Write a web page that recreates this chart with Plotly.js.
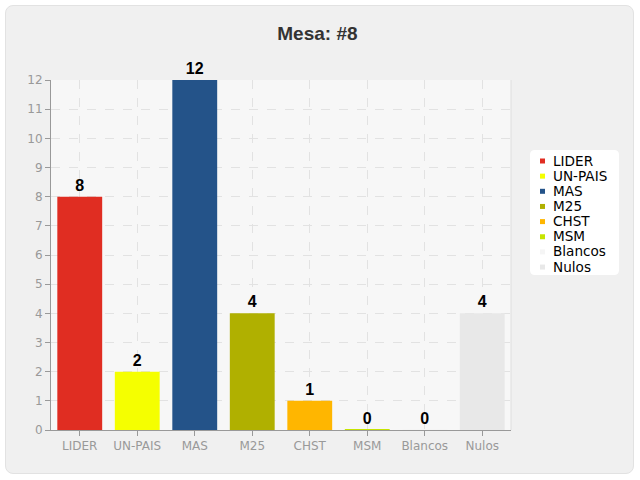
<!DOCTYPE html>
<html><head><meta charset="utf-8">
<script src="https://cdn.plot.ly/plotly-3.0.1.min.js"></script>
<style>
html,body{margin:0;padding:0;background:#fff;width:640px;height:480px;overflow:hidden}
#panel{position:absolute;left:5px;top:5px;width:629px;height:469px;background:#f0f0f0;border:1px solid #e2e2e2;border-radius:8px;box-sizing:border-box}
#chart{position:absolute;left:0;top:0;width:640px;height:480px}
</style></head>
<body><div id="panel"></div><div id="chart"></div>
<script>
const categories = ["LIDER","UN-PAIS","MAS","M25","CHST","MSM","Blancos","Nulos"];
const votes = [8,2,12,4,1,0,0,4];
const colors = ["#e02d22","#f5ff00","#245389","#b0b000","#ffb600","#c6e400","#f5f5f5","#e8e8e8"];
const yTicks = [0,1,2,3,4,5,6,7,8,9,10,11,12];
const chartTitle = "Mesa: #8";

// plot area geometry (pixels)
const M = {l:51, r:129, t:80, b:50};
const PW = 640 - M.l - M.r, PH = 480 - M.t - M.b;
const px = v => (v - M.l) / PW;
const py = v => (480 - M.b - v) / PH;

const traces = categories.map((c,i)=>({
  type:'bar', name:c, x:[c], y:[votes[i]], showlegend:false,
  marker:{color:colors[i], line:{width:votes[i]===0?2:0, color:colors[i]}},
  text:[String(votes[i])], textposition:'outside', cliponaxis:false,
  textfont:{family:'Liberation Sans, Arial', size:16, color:'#000', weight:'bold'},
  hoverinfo:'x+y'
}));

// custom legend (box, swatches, labels) built from the category/colour arrays
const LB = {x0:530, x1:619, y0:150, y1:275, r:5};
const rx = LB.r / PW, ry = LB.r / PH;
const bx0 = px(LB.x0), bx1 = px(LB.x1), by0 = py(LB.y1), by1 = py(LB.y0);
const boxPath = `M ${bx0+rx},${by1} L ${bx1-rx},${by1} Q ${bx1},${by1} ${bx1},${by1-ry} L ${bx1},${by0+ry} Q ${bx1},${by0} ${bx1-rx},${by0} L ${bx0+rx},${by0} Q ${bx0},${by0} ${bx0},${by0+ry} L ${bx0},${by1-ry} Q ${bx0},${by1} ${bx0+rx},${by1} Z`;
const shapes = [
  {type:'line', xref:'paper', yref:'paper', x0:1, x1:1, y0:0, y1:1, line:{color:'#dedede', width:1}},
  {type:'path', xref:'paper', yref:'paper', path:boxPath, fillcolor:'#ffffff', line:{width:0}, layer:'above'}
];
const annotations = [];
categories.forEach((c,i)=>{
  const cy = 160.5 + i*15.15;
  shapes.push({type:'rect', xref:'paper', yref:'paper', x0:px(540), x1:px(545), y0:py(cy+3), y1:py(cy-2),
    fillcolor:colors[i], line:{width:0}, layer:'above'});
  annotations.push({xref:'paper', yref:'paper', x:px(551), y:py(cy), xanchor:'left', yanchor:'middle',
    text:c, showarrow:false, font:{family:'DejaVu Sans', size:13.6, color:'#000'}});
});

const layout = {
  width:640, height:480,
  paper_bgcolor:'rgba(0,0,0,0)', plot_bgcolor:'#f7f7f7',
  margin:M,
  barmode:'relative', bargap:0.22,
  title:{text:'<b>'+chartTitle+'</b>', x:0.496, xanchor:'center', y:0.931, yanchor:'middle',
    font:{family:'Liberation Sans, Arial', size:19, color:'#333'}},
  xaxis:{type:'category', categoryorder:'array', categoryarray:categories,
    showline:true, linecolor:'#999', linewidth:1,
    showgrid:true, gridcolor:'#e2e2e2', griddash:'dash',
    ticks:'outside', ticklen:5, tickcolor:'#999',
    tickfont:{family:'DejaVu Sans', size:12, color:'#999'}, zeroline:false},
  yaxis:{range:[0,12], tickmode:'array', tickvals:yTicks, ticktext:yTicks.map(String),
    showline:true, linecolor:'#999', linewidth:1,
    showgrid:true, gridcolor:'#e2e2e2', griddash:'dash',
    ticks:'outside', ticklen:5, tickcolor:'#999',
    tickfont:{family:'DejaVu Sans', size:12, color:'#999'}, zeroline:false},
  shapes:shapes, annotations:annotations,
  showlegend:false
};
Plotly.newPlot('chart', traces, layout, {displayModeBar:false, staticPlot:true});
</script></body></html>
